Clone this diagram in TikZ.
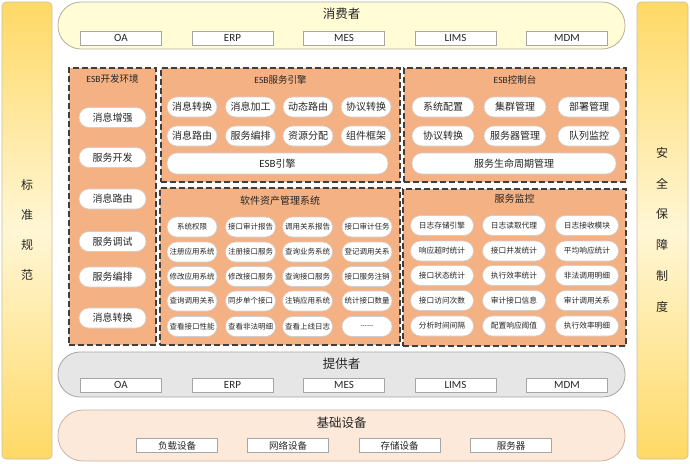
\documentclass[tikz,border=0pt]{standalone}
\usepackage{fontspec}
\setmainfont{Noto Sans CJK SC}
\newfontfamily\lat{Carlito}
\definecolor{panelorange}{HTML}{F4B183}
\definecolor{dashgray}{HTML}{3F3F3F}
\definecolor{pillborder}{HTML}{D0CECE}
\definecolor{consfill}{HTML}{FFFCD6}
\definecolor{consborder}{HTML}{B4B29A}
\definecolor{provfill}{HTML}{E7E6E6}
\definecolor{provborder}{HTML}{A6A6A6}
\definecolor{basefill}{HTML}{FDE9D9}
\definecolor{baseborder}{HTML}{C8B4A4}
\definecolor{boxborder}{HTML}{A6A6A6}
\definecolor{pillartop}{HTML}{FFD966}
\definecolor{pillarmid}{HTML}{FFF6D5}
\definecolor{pillarborder}{HTML}{C9C0A0}
\definecolor{txt}{HTML}{262626}
\tikzset{
  fs/.style={font=\fontsize{#1}{#1}\selectfont},
  pill/.style={draw=pillborder, fill=white, rounded corners=10pt, minimum height=20pt,
    inner sep=0pt, line width=0.6pt, text=txt},
  sbox/.style={draw=boxborder, fill=white, minimum width=81pt, minimum height=14pt,
    inner sep=0pt, line width=0.8pt, text=txt},
  panel/.style={draw=dashgray, fill=panelorange, dash pattern=on 6pt off 3pt,
    line width=1.3pt, inner sep=0pt},
  band/.style={line width=0.8pt, inner sep=0pt},
  pillar/.style={draw=pillarborder, line width=0.6pt, rounded corners=4pt,
    top color=pillartop, bottom color=pillartop, middle color=pillarmid,
    minimum width=50pt, minimum height=457pt, inner sep=0pt},
  ttl/.style={text=txt, inner sep=0pt},
  vch/.style={text=txt, inner sep=0pt, font=\fontsize{12}{12}\selectfont},
}
\begin{document}
\begin{tikzpicture}[x=1pt,y=-1pt]
\useasboundingbox (0,0) rectangle (690,463);
\fill[white] (0,0) rectangle (690,463);

% side pillars
\node[pillar] (lp) at (27,230.5) {};
\node[pillar, minimum width=51pt] (rp) at (662.5,230.5) {};
\foreach \c/\y [count=\i] in {标/185,准/215,规/245,范/275}
  \node[vch] (lpc\i) at (27,\y) {\c};
\foreach \c/\y [count=\i] in {安/153,全/184,保/214,障/245,制/276,度/307}
  \node[vch] (rpc\i) at (662,\y) {\c};

% consumer band
\node[band, draw=consborder, fill=consfill, rounded corners=23pt,
  minimum width=567pt, minimum height=47pt] (cons) at (341.5,25.5) {};
\node[ttl, fs=12.5] (consT) at (341.5,14) {消费者};
\foreach \t/\x [count=\i] in {OA/121,ERP/232.5,MES/344,LIMS/455.5,MDM/567}
  \node[sbox, font=\lat\fontsize{11}{11}\selectfont] (cb\i) at (\x,38) {\t};

% provider band
\node[band, draw=provborder, fill=provfill, rounded corners=22pt,
  minimum width=567pt, minimum height=45pt] (prov) at (341.5,374.5) {};
\node[ttl, fs=12.5] (provT) at (341.5,364) {提供者};
\foreach \t/\x [count=\i] in {OA/121,ERP/232.5,MES/344,LIMS/455.5,MDM/567}
  \node[sbox, font=\lat\fontsize{11}{11}\selectfont] (pb\i) at (\x,385) {\t};

% base band
\node[band, draw=baseborder, fill=basefill, rounded corners=25pt,
  minimum width=567pt, minimum height=51pt] (base) at (341.5,435.5) {};
\node[ttl, fs=12.5] (baseT) at (341.5,423) {基础设备};
\foreach \t/\x [count=\i] in {负载设备/177,网络设备/288,存储设备/399.5,服务器/511}
  \node[sbox, fs=9.5] (bb\i) at (\x,445.5) {\t};

% ESB dev environment
\node[panel, minimum width=87pt, minimum height=277pt] (dev) at (112.5,206.5) {};
\node[ttl, fs=9.5] (devT) at (112.5,79) {{\lat ESB}开发环境};
\foreach \t/\y [count=\i] in {消息增强/117.5,服务开发/157.5,消息路由/199,服务调试/241.5,服务编排/277,消息转换/318}
  \node[pill, minimum width=67pt, fs=10] (dv\i) at (112.5,\y) {\t};

% ESB service engine
\node[panel, minimum width=239pt, minimum height=114pt] (eng) at (280.5,125) {};
\node[ttl, fs=9.5] (engT) at (280.5,80) {{\lat ESB}服务引擎};
\foreach \t/\x [count=\i] in {消息转换/192,消息加工/250.5,动态路由/308,协议转换/366}
  \node[pill, minimum width=50pt, fs=10] (e1\i) at (\x,107) {\t};
\foreach \t/\x [count=\i] in {消息路由/192,服务编排/250.5,资源分配/308,组件框架/366}
  \node[pill, minimum width=50pt, fs=10] (e2\i) at (\x,136) {\t};
\node[pill, minimum width=221pt, minimum height=21pt, fs=10] (eW) at (277.5,163.5) {{\lat\fontsize{11}{11}\selectfont ESB}引擎};

% ESB console
\node[panel, minimum width=222pt, minimum height=114pt] (con) at (515,125) {};
\node[ttl, fs=9.5] (conT) at (515,80) {{\lat ESB}控制台};
\foreach \t/\x [count=\i] in {系统配置/443,集群管理/515,部署管理/589}
  \node[pill, minimum width=62pt, fs=10] (c1\i) at (\x,107) {\t};
\foreach \t/\x [count=\i] in {协议转换/443,服务器管理/515,队列监控/589}
  \node[pill, minimum width=62pt, fs=10] (c2\i) at (\x,136) {\t};
\node[pill, minimum width=204pt, minimum height=21pt, fs=10] (cW) at (514,163.5) {服务生命周期管理};

% software asset management
\node[panel, minimum width=240pt, minimum height=157pt] (sam) at (280,266.5) {};
\node[ttl, fs=10] (samT) at (280,201) {软件资产管理系统};
\foreach \t/\x [count=\i] in {系统权限/192,接口审计报告/250.5,调用关系报告/307.5,接口审计任务/367}
  \node[pill, minimum width=50pt, fs=7.5] (s1\i) at (\x,227) {\t};
\foreach \t/\x [count=\i] in {注册应用系统/192,注册接口服务/250.5,查询业务系统/307.5,登记调用关系/367}
  \node[pill, minimum width=50pt, fs=7.5] (s2\i) at (\x,252) {\t};
\foreach \t/\x [count=\i] in {修改应用系统/192,修改接口服务/250.5,查询接口服务/307.5,接口服务注销/367}
  \node[pill, minimum width=50pt, fs=7.5] (s3\i) at (\x,276.5) {\t};
\foreach \t/\x [count=\i] in {查询调用关系/192,同步单个接口/250.5,注销应用系统/307.5,统计接口数量/367}
  \node[pill, minimum width=50pt, fs=7.5] (s4\i) at (\x,301) {\t};
\foreach \t/\x [count=\i] in {查看接口性能/192,查看非法明细/250.5,查看上线日志/307.5}
  \node[pill, minimum width=50pt, fs=7.5] (s5\i) at (\x,326.5) {\t};
\node[pill, minimum width=50pt, fs=7.5] (s54) at (367,326.5) {......};

% service monitor
\node[panel, minimum width=223pt, minimum height=157pt] (mon) at (514.5,267.5) {};
\node[ttl, fs=10] (monT) at (514.5,199) {服务监控};
\foreach \t/\x [count=\i] in {日志存储引擎/442,日志读取代理/514,日志接收模块/587}
  \node[pill, minimum width=63pt, fs=7.7] (m1\i) at (\x,225.5) {\t};
\foreach \t/\x [count=\i] in {响应超时统计/442,接口并发统计/514,平均响应统计/587}
  \node[pill, minimum width=63pt, fs=7.7] (m2\i) at (\x,251) {\t};
\foreach \t/\x [count=\i] in {接口状态统计/442,执行效率统计/514,非法调用明细/587}
  \node[pill, minimum width=63pt, fs=7.7] (m3\i) at (\x,275.5) {\t};
\foreach \t/\x [count=\i] in {接口访问次数/442,审计接口信息/514,审计调用关系/587}
  \node[pill, minimum width=63pt, fs=7.7] (m4\i) at (\x,300.5) {\t};
\foreach \t/\x [count=\i] in {分析时间间隔/442,配置响应阈值/514,执行效率明细/587}
  \node[pill, minimum width=63pt, fs=7.7] (m5\i) at (\x,326) {\t};
\end{tikzpicture}
\end{document}
